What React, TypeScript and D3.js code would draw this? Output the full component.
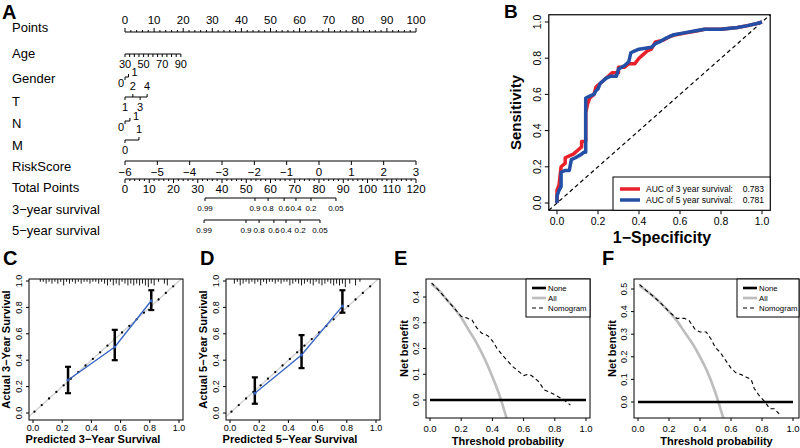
import React from 'react';
import * as d3 from 'd3';

const FONT = '"Liberation Sans", Arial, Helvetica, sans-serif';

// ---------------- Panel A : nomogram ----------------
const nomoLabels = ['Points', 'Age', 'Gender', 'T', 'N', 'M', 'RiskScore', 'Total Points', '3\u2212year survival', '5\u2212year survival'];
const pointsTicks = [0, 10, 20, 30, 40, 50, 60, 70, 80, 90, 100];
const ageTicks = [30, 35, 40, 45, 50, 55, 60, 65, 70, 75, 80, 85, 90];
const ageLabels = [30, 50, 70, 90];
const ageRange = [30, 90];
const agePointsRange = [0, 19.2];
const genderLevels = ['0', '1'];
const genderPoints = [0, 1.2];
const tLevels = ['1', '2', '3', '4'];
const tPoints = [0, 2.7, 5.2, 7.6];
const nLevels = ['0', '1'];
const nPoints = [0, 1.7];
const mLevels = ['0', '1'];
const mPoints = [0, 4.8];
const riskTicks = [-6, -5, -4, -3, -2, -1, 0, 1, 2, 3];
const riskPointsRange = [0, 100];
const totalTicks = [0, 10, 20, 30, 40, 50, 60, 70, 80, 90, 100, 110, 120];
const survLabels = ['0.99', '0.9', '0.8', '0.6', '0.4', '0.2', '0.05'];
const surv3Points = [33.0, 53.6, 59.0, 65.6, 70.5, 76.7, 87.0];
const surv5Points = [32.6, 49.9, 55.3, 61.4, 66.4, 72.2, 80.4];

// ---------------- Panel B : ROC ----------------
const roc3Fpr = [0, 0, 0.01, 0.02, 0.04, 0.04, 0.06, 0.08, 0.1, 0.12, 0.12, 0.14, 0.14, 0.15, 0.16, 0.18, 0.19, 0.2, 0.22, 0.25, 0.27, 0.3, 0.3, 0.33, 0.35, 0.38, 0.4, 0.42, 0.44, 0.46, 0.48, 0.52, 0.55, 0.58, 0.63, 0.68, 0.72, 0.8, 0.88, 0.93, 0.97, 1];
const roc3Tpr = [0, 0.07, 0.1, 0.2, 0.22, 0.25, 0.26, 0.27, 0.29, 0.31, 0.34, 0.34, 0.5, 0.55, 0.58, 0.6, 0.64, 0.65, 0.67, 0.7, 0.72, 0.72, 0.75, 0.75, 0.77, 0.77, 0.8, 0.82, 0.84, 0.85, 0.89, 0.9, 0.92, 0.93, 0.94, 0.95, 0.96, 0.96, 0.97, 0.98, 0.99, 1];
const roc5Fpr = [0, 0, 0.01, 0.02, 0.02, 0.04, 0.06, 0.07, 0.09, 0.12, 0.13, 0.14, 0.14, 0.16, 0.18, 0.19, 0.2, 0.21, 0.24, 0.26, 0.29, 0.3, 0.33, 0.35, 0.36, 0.38, 0.4, 0.46, 0.48, 0.5, 0.53, 0.57, 0.62, 0.67, 0.72, 0.8, 0.88, 0.93, 0.97, 1];
const roc5Tpr = [0, 0.04, 0.07, 0.09, 0.17, 0.18, 0.18, 0.24, 0.25, 0.27, 0.28, 0.28, 0.58, 0.59, 0.6, 0.62, 0.63, 0.66, 0.69, 0.7, 0.7, 0.74, 0.76, 0.78, 0.83, 0.84, 0.85, 0.86, 0.88, 0.89, 0.91, 0.93, 0.94, 0.95, 0.96, 0.96, 0.97, 0.98, 0.99, 1];
const rocLegend = ['AUC of 3 year survival:', 'AUC of 5 year survival:'];
const rocAuc = ['0.783', '0.781'];
const unitTicks = [0, 0.2, 0.4, 0.6, 0.8, 1.0];

// ---------------- Panels C, D : calibration ----------------
const calCPred = [0.24, 0.56, 0.81];
const calCObs = [0.25, 0.50, 0.85];
const calCLo = [0.15, 0.40, 0.78];
const calCHi = [0.35, 0.63, 0.93];
const rugCVal = [0.05, 0.07, 0.09, 0.11, 0.13, 0.15, 0.17, 0.19, 0.21, 0.23, 0.25, 0.27, 0.29, 0.31, 0.33, 0.35, 0.37, 0.39, 0.41, 0.43, 0.45, 0.47, 0.49, 0.51, 0.53, 0.55, 0.57, 0.59, 0.61, 0.63, 0.65, 0.67, 0.69, 0.71, 0.73, 0.75, 0.77, 0.79, 0.81, 0.83, 0.86, 0.90, 0.92];
const rugCCnt = [1, 1, 2, 1, 2, 1, 2, 1, 3, 1, 2, 1, 2, 1, 2, 1, 1, 2, 1, 1, 2, 1, 2, 3, 1, 3, 2, 3, 1, 2, 3, 2, 3, 2, 3, 2, 3, 4, 2, 3, 1, 2, 3];
const calDPred = [0.17, 0.49, 0.77];
const calDObs = [0.15, 0.44, 0.81];
const calDLo = [0.07, 0.34, 0.76];
const calDHi = [0.27, 0.59, 0.93];
const rugDVal = [0.03, 0.05, 0.07, 0.09, 0.11, 0.13, 0.15, 0.17, 0.19, 0.21, 0.23, 0.25, 0.27, 0.29, 0.31, 0.33, 0.35, 0.37, 0.39, 0.41, 0.43, 0.45, 0.47, 0.49, 0.51, 0.53, 0.55, 0.57, 0.59, 0.61, 0.63, 0.65, 0.67, 0.69, 0.71, 0.73, 0.75, 0.77, 0.79, 0.82, 0.86, 0.89];
const rugDCnt = [2, 1, 3, 2, 1, 2, 1, 2, 1, 3, 1, 2, 1, 1, 2, 1, 2, 1, 1, 3, 2, 1, 2, 3, 2, 1, 2, 3, 1, 2, 3, 2, 1, 2, 3, 2, 3, 2, 4, 2, 3, 1];

// ---------------- Panels E, F : decision curves ----------------
const dcaLegend = ['None', 'All', 'Nomogram'];
const eAllT = [0.01, 0.05, 0.1, 0.15, 0.2, 0.25, 0.3, 0.35, 0.4, 0.45, 0.5];
const eAllNb = [0.45, 0.43, 0.395, 0.36, 0.32, 0.27, 0.22, 0.16, 0.09, 0.01, -0.09];
const eNomT = [0.01, 0.05, 0.1, 0.15, 0.2, 0.23, 0.25, 0.27, 0.3, 0.33, 0.37, 0.4, 0.43, 0.47, 0.5, 0.53, 0.57, 0.6, 0.63, 0.65, 0.68, 0.7, 0.73, 0.77, 0.8, 0.83, 0.86, 0.9];
const eNomNb = [0.455, 0.43, 0.395, 0.36, 0.325, 0.32, 0.315, 0.31, 0.28, 0.26, 0.25, 0.23, 0.2, 0.17, 0.15, 0.13, 0.11, 0.095, 0.1, 0.095, 0.08, 0.07, 0.04, 0.03, 0.02, 0.01, 0.0, -0.02];
const eYTicks = [0, 0.1, 0.2, 0.3, 0.4];
const fAllT = [0.01, 0.05, 0.1, 0.15, 0.2, 0.25, 0.3, 0.35, 0.4, 0.45, 0.5, 0.55, 0.56];
const fAllNb = [0.515, 0.495, 0.467, 0.435, 0.4, 0.36, 0.31, 0.26, 0.2, 0.13, 0.04, -0.07, -0.09];
const fNomT = [0.01, 0.05, 0.1, 0.15, 0.2, 0.25, 0.3, 0.33, 0.37, 0.4, 0.44, 0.47, 0.5, 0.53, 0.57, 0.6, 0.63, 0.67, 0.7, 0.73, 0.75, 0.78, 0.82, 0.85, 0.88, 0.92];
const fNomNb = [0.52, 0.495, 0.467, 0.435, 0.4, 0.37, 0.37, 0.36, 0.32, 0.31, 0.31, 0.28, 0.24, 0.22, 0.18, 0.15, 0.13, 0.12, 0.11, 0.1, 0.06, 0.03, 0.0, -0.03, -0.03, -0.06];
const fYTicks = [0, 0.1, 0.2, 0.3, 0.4, 0.5];

const fmt1 = (v: number) => v.toFixed(1);

function CatAxis({ levels, pts, y, x }: any) {
  const xs = pts.map((p: number) => x(p));
  const short = xs[xs.length - 1] - xs[0] < 8;
  return (
    <g>
      <line x1={xs[0]} x2={xs[xs.length - 1]} y1={y} y2={y} stroke="#000" />
      {levels.map((l: string, i: number) => {
        const below = i % 2 === 0;
        const dx = short ? (below ? -4 : 6) : 0;
        const dy = short ? (below ? 5.5 : -5) : (below ? 9.5 : -11);
        return (
          <g key={i}>
            <line x1={xs[i]} x2={xs[i]} y1={y} y2={below ? y + 3 : y - 3} stroke="#000" />
            <text x={xs[i] + dx} y={y + dy} textAnchor="middle" dominantBaseline="central" fontSize={11}>{l}</text>
          </g>
        );
      })}
    </g>
  );
}

function PanelA() {
  const ptsX = d3.scaleLinear().domain([0, 100]).range([125, 416]);
  const totX = d3.scaleLinear().domain([0, 120]).range([125, 416]);
  const ageX = d3.scaleLinear().domain(ageRange).range(agePointsRange.map((p) => ptsX(p)));
  const riskX = d3.scaleLinear().domain([-6, 3]).range(riskPointsRange.map((p) => ptsX(p)));
  const labelY = [27, 53, 78, 101, 123, 145, 166, 187, 209, 230];
  const yPts = 32, yAge = 54, yGender = 77, yT = 97, yN = 121, yM = 140, yRisk = 161, yTot = 179, yS3 = 198, yS5 = 220;
  const survAxis = (pts: number[], y: number) => (
    <g>
      <line x1={totX(pts[0])} x2={totX(pts[pts.length - 1])} y1={y} y2={y} stroke="#000" />
      {pts.map((p, i) => (
        <g key={i}>
          <line x1={totX(p)} x2={totX(p)} y1={y} y2={y + 3} stroke="#000" />
          <text x={totX(p)} y={y + 10} textAnchor="middle" dominantBaseline="central" fontSize={8}>{survLabels[i]}</text>
        </g>
      ))}
    </g>
  );
  return (
    <g>
      <text x={2} y={19} fontSize={20} fontWeight="bold">A</text>
      {nomoLabels.map((t, i) => (
        <text key={i} x={12} y={labelY[i]} dominantBaseline="central" fontSize={13}>{t}</text>
      ))}
      {/* Points */}
      <line x1={ptsX(0)} x2={ptsX(100)} y1={yPts} y2={yPts} stroke="#000" />
      {d3.range(0, 101, 2).map((v) => (
        <line key={v} x1={ptsX(v)} x2={ptsX(v)} y1={yPts} y2={yPts - (v % 10 === 0 ? 4 : 2)} stroke="#000" />
      ))}
      {pointsTicks.map((v) => (
        <text key={v} x={ptsX(v)} y={20} textAnchor="middle" dominantBaseline="central" fontSize={11.5}>{v}</text>
      ))}
      {/* Age */}
      <line x1={ageX(ageRange[0])} x2={ageX(ageRange[1])} y1={yAge} y2={yAge} stroke="#000" />
      {ageTicks.map((v) => (
        <line key={v} x1={ageX(v)} x2={ageX(v)} y1={yAge} y2={yAge + 3} stroke="#000" />
      ))}
      {ageLabels.map((v) => (
        <text key={v} x={ageX(v)} y={yAge + 9.5} textAnchor="middle" dominantBaseline="central" fontSize={11}>{v}</text>
      ))}
      <CatAxis levels={genderLevels} pts={genderPoints} y={yGender} x={ptsX} />
      <CatAxis levels={tLevels} pts={tPoints} y={yT} x={ptsX} />
      <CatAxis levels={nLevels} pts={nPoints} y={yN} x={ptsX} />
      <CatAxis levels={mLevels} pts={mPoints} y={yM} x={ptsX} />
      {/* RiskScore */}
      <line x1={riskX(-6)} x2={riskX(3)} y1={yRisk} y2={yRisk} stroke="#000" />
      {riskTicks.map((v) => (
        <g key={v}>
          <line x1={riskX(v)} x2={riskX(v)} y1={yRisk} y2={yRisk + 4} stroke="#000" />
          <text x={riskX(v)} y={yRisk + 11} textAnchor="middle" dominantBaseline="central" fontSize={11.5}>{v < 0 ? '\u2212' + Math.abs(v) : v}</text>
        </g>
      ))}
      {/* Total points */}
      <line x1={totX(0)} x2={totX(120)} y1={yTot} y2={yTot} stroke="#000" />
      {d3.range(0, 121, 2).map((v) => (
        <line key={v} x1={totX(v)} x2={totX(v)} y1={yTot} y2={yTot + (v % 10 === 0 ? 4 : 2)} stroke="#000" />
      ))}
      {totalTicks.map((v) => (
        <text key={v} x={totX(v)} y={yTot + 10} textAnchor="middle" dominantBaseline="central" fontSize={11.5}>{v}</text>
      ))}
      {survAxis(surv3Points, yS3)}
      {survAxis(surv5Points, yS5)}
    </g>
  );
}

function PanelB() {
  const x = d3.scaleLinear().domain([0, 1]).range([557, 762]);
  const y = d3.scaleLinear().domain([0, 1]).range([203, 22]);
  const bx0 = x(-0.04), bx1 = x(1.04), by0 = y(1.04), by1 = y(-0.04);
  const line = d3.line<number>().x((d: any) => x(d[0])).y((d: any) => y(d[1]));
  const pts3 = roc3Fpr.map((f, i) => [f, roc3Tpr[i]]);
  const pts5 = roc5Fpr.map((f, i) => [f, roc5Tpr[i]]);
  return (
    <g>
      <text x={504} y={18} fontSize={19} fontWeight="bold">B</text>
      <line x1={bx0} y1={by1} x2={bx1} y2={by0} stroke="#000" strokeDasharray="4,3" strokeWidth={1.2} />
      <path d={line(pts3 as any) || ''} fill="none" stroke="#e8212b" strokeWidth={3.5} strokeLinejoin="round" />
      <path d={line(pts5 as any) || ''} fill="none" stroke="#2350a6" strokeWidth={3.5} strokeLinejoin="round" />
      <rect x={bx0} y={by0} width={bx1 - bx0} height={by1 - by0} fill="none" stroke="#000" strokeWidth={1.2} />
      {unitTicks.map((v) => (
        <g key={'x' + v}>
          <line x1={x(v)} x2={x(v)} y1={by1} y2={by1 + 4} stroke="#000" />
          <text x={x(v)} y={by1 + 11} textAnchor="middle" dominantBaseline="central" fontSize={10.5}>{fmt1(v)}</text>
          <line x1={bx0} x2={bx0 - 4} y1={y(v)} y2={y(v)} stroke="#000" />
          <text transform={`translate(${bx0 - 12},${y(v)}) rotate(-90)`} textAnchor="middle" dominantBaseline="central" fontSize={10.5}>{fmt1(v)}</text>
        </g>
      ))}
      <text x={662} y={237} textAnchor="middle" dominantBaseline="central" fontSize={16} fontWeight="bold">1{'\u2212'}Specificity</text>
      <text transform={`translate(515,${(by0 + by1) / 2}) rotate(-90)`} textAnchor="middle" dominantBaseline="central" fontSize={15} fontWeight="bold">Sensitivity</text>
      {/* legend */}
      <rect x={613} y={177} width={bx1 - 613} height={by1 - 177} fill="#fff" stroke="#000" strokeWidth={1} />
      {rocLegend.map((t, i) => (
        <g key={t}>
          <line x1={620} x2={640} y1={189 + i * 11} y2={189 + i * 11} stroke={i === 0 ? '#e8212b' : '#2350a6'} strokeWidth={3.5} />
          <text x={646} y={189 + i * 11} dominantBaseline="central" fontSize={8.5}>{t}</text>
          <text x={764} y={189 + i * 11} textAnchor="end" dominantBaseline="central" fontSize={8.5}>{rocAuc[i]}</text>
        </g>
      ))}
    </g>
  );
}

function CalPanel({ x0, letter, pred, obs, lo, hi, rugVal, rugCnt, yearLabel, clipId }: any) {
  const x = d3.scaleLinear().domain([0, 1]).range([x0 + 4, x0 + 150]);
  const y = d3.scaleLinear().domain([0, 1]).range([413, 281]);
  const bx0 = x0, bx1 = x0 + 154, by0 = 279, by1 = 420;
  const line = d3.line<any>().x((d) => x(d[0])).y((d) => y(d[1]));
  const dotLen = Math.hypot(x(0.05) - x(0), y(0) - y(0.05));
  return (
    <g>
      <text x={x0 - 26} y={265} fontSize={20} fontWeight="bold">{letter}</text>
      <defs>
        <clipPath id={clipId}><rect x={bx0} y={by0} width={bx1 - bx0} height={by1 - by0} /></clipPath>
      </defs>
      <g clipPath={`url(#${clipId})`}>
        <line x1={x(-0.1)} y1={y(-0.1)} x2={x(1.1)} y2={y(1.1)} stroke="#cfcfcf" strokeWidth={1.3} />
        <line x1={x(0.01)} y1={y(0.01)} x2={x(1.0)} y2={y(1.0)} stroke="#000" strokeWidth={2.3} strokeLinecap="round" strokeDasharray={`0 ${dotLen}`} />
        {rugVal.map((v: number, i: number) => (
          <line key={i} x1={x(v)} x2={x(v)} y1={by0} y2={by0 + 1 + rugCnt[i] * 1.8} stroke="#000" strokeWidth={0.9} />
        ))}
      </g>
      <path d={line(pred.map((p: number, i: number) => [p, obs[i]])) || ''} fill="none" stroke="#3a66c4" strokeWidth={1.4} />
      {pred.map((p: number, i: number) => (
        <g key={i}>
          <line x1={x(p)} x2={x(p)} y1={y(lo[i])} y2={y(hi[i])} stroke="#000" strokeWidth={2.5} />
          <line x1={x(p) - 3} x2={x(p) + 3} y1={y(lo[i])} y2={y(lo[i])} stroke="#000" strokeWidth={2.2} />
          <line x1={x(p) - 3} x2={x(p) + 3} y1={y(hi[i])} y2={y(hi[i])} stroke="#000" strokeWidth={2.2} />
          <circle cx={x(p)} cy={y(obs[i])} r={1.6} fill="#3a66c4" />
        </g>
      ))}
      <rect x={bx0} y={by0} width={bx1 - bx0} height={by1 - by0} fill="none" stroke="#000" strokeWidth={1} />
      {unitTicks.map((v) => (
        <g key={v}>
          <line x1={x(v)} x2={x(v)} y1={by1} y2={by1 + 3} stroke="#000" />
          <text x={x(v)} y={by1 + 8} textAnchor="middle" dominantBaseline="central" fontSize={9}>{fmt1(v)}</text>
          <line x1={bx0} x2={bx0 - 3} y1={y(v)} y2={y(v)} stroke="#000" />
          <text transform={`translate(${bx0 - 10},${y(v)}) rotate(-90)`} textAnchor="middle" dominantBaseline="central" fontSize={9}>{fmt1(v)}</text>
        </g>
      ))}
      <text x={x0 + 64} y={439} textAnchor="middle" dominantBaseline="central" fontSize={11} fontWeight="bold">Predicted {yearLabel} Survival</text>
      <text transform={`translate(${x0 - 23},${(by0 + by1) / 2}) rotate(-90)`} textAnchor="middle" dominantBaseline="central" fontSize={11} fontWeight="bold">Actual {yearLabel} Survival</text>
    </g>
  );
}

function DcaPanel({ x0, x1, xr, y0px, yPer01, yTicks, letter, allT, allNb, nomT, nomNb, legX, clipId }: any) {
  const x = d3.scaleLinear().domain([0, 1]).range(xr);
  const y = d3.scaleLinear().domain([0, 0.1]).range([y0px, y0px - yPer01]);
  const by0 = 279, by1 = 418;
  const line = d3.line<any>().x((d) => x(d[0])).y((d) => y(d[1]));
  const curve = d3.line<any>().x((d) => x(d[0])).y((d) => y(d[1])).curve(d3.curveMonotoneX);
  return (
    <g>
      <text x={x0 - 32} y={265} fontSize={20} fontWeight="bold">{letter}</text>
      <defs>
        <clipPath id={clipId}><rect x={x0} y={by0} width={x1 - x0} height={by1 - by0} /></clipPath>
      </defs>
      <g clipPath={`url(#${clipId})`}>
        <path d={curve(allT.map((t: number, i: number) => [t, allNb[i]])) || ''} fill="none" stroke="#bdbdbd" strokeWidth={2.6} />
        <path d={line(nomT.map((t: number, i: number) => [t, nomNb[i]])) || ''} fill="none" stroke="#000" strokeWidth={1.1} strokeDasharray="4,3" />
        <line x1={x(0)} x2={x(1)} y1={y(0)} y2={y(0)} stroke="#000" strokeWidth={2.6} />
      </g>
      <rect x={x0} y={by0} width={x1 - x0} height={by1 - by0} fill="none" stroke="#000" strokeWidth={1} />
      {unitTicks.map((v) => (
        <g key={v}>
          <line x1={x(v)} x2={x(v)} y1={by1} y2={by1 + 3} stroke="#000" />
          <text x={x(v)} y={by1 + 10} textAnchor="middle" dominantBaseline="central" fontSize={9.5}>{fmt1(v)}</text>
        </g>
      ))}
      {yTicks.map((v: number) => (
        <g key={v}>
          <line x1={x0} x2={x0 - 3} y1={y(v)} y2={y(v)} stroke="#000" />
          <text transform={`translate(${x0 - 10},${y(v)}) rotate(-90)`} textAnchor="middle" dominantBaseline="central" fontSize={9}>{fmt1(v)}</text>
        </g>
      ))}
      <text x={(x0 + x1) / 2} y={441} textAnchor="middle" dominantBaseline="central" fontSize={11} fontWeight="bold">Threshold probability</text>
      <text transform={`translate(${x0 - 22},${(by0 + by1) / 2}) rotate(-90)`} textAnchor="middle" dominantBaseline="central" fontSize={11} fontWeight="bold">Net benefit</text>
      <rect x={legX} y={by0} width={x1 - legX} height={38} fill="#fff" stroke="#000" strokeWidth={1} />
      {dcaLegend.map((t, i) => (
        <g key={t}>
          <line x1={legX + 6} x2={legX + 20} y1={by0 + 9 + i * 10} y2={by0 + 9 + i * 10}
            stroke={i === 1 ? '#bdbdbd' : '#000'} strokeWidth={i === 2 ? 1.1 : 2.6} strokeDasharray={i === 2 ? '4,3' : undefined} />
          <text x={legX + 22} y={by0 + 9 + i * 10} dominantBaseline="central" fontSize={7.8}>{t}</text>
        </g>
      ))}
    </g>
  );
}

export default function App() {
  return (
    <svg width={800} height={448} style={{ position: 'absolute', left: 0, top: 0 }} fontFamily={FONT}>
      <rect width={800} height={448} fill="#fff" />
      <PanelA />
      <PanelB />
      <CalPanel x0={29} letter="C" pred={calCPred} obs={calCObs} lo={calCLo} hi={calCHi} rugVal={rugCVal} rugCnt={rugCCnt} yearLabel={'3\u2212Year'} clipId="clipC" />
      <CalPanel x0={226} letter="D" pred={calDPred} obs={calDObs} lo={calDLo} hi={calDHi} rugVal={rugDVal} rugCnt={rugDCnt} yearLabel={'5\u2212Year'} clipId="clipD" />
      <DcaPanel x0={426} x1={590} xr={[430, 586]} y0px={400} yPer01={25.75} yTicks={eYTicks} letter="E" allT={eAllT} allNb={eAllNb} nomT={eNomT} nomNb={eNomNb} legX={526} clipId="clipE" />
      <DcaPanel x0={634} x1={799} xr={[638, 793]} y0px={402} yPer01={22.6} yTicks={fYTicks} letter="F" allT={fAllT} allNb={fAllNb} nomT={fNomT} nomNb={fNomNb} legX={737} clipId="clipF" />
    </svg>
  );
}
